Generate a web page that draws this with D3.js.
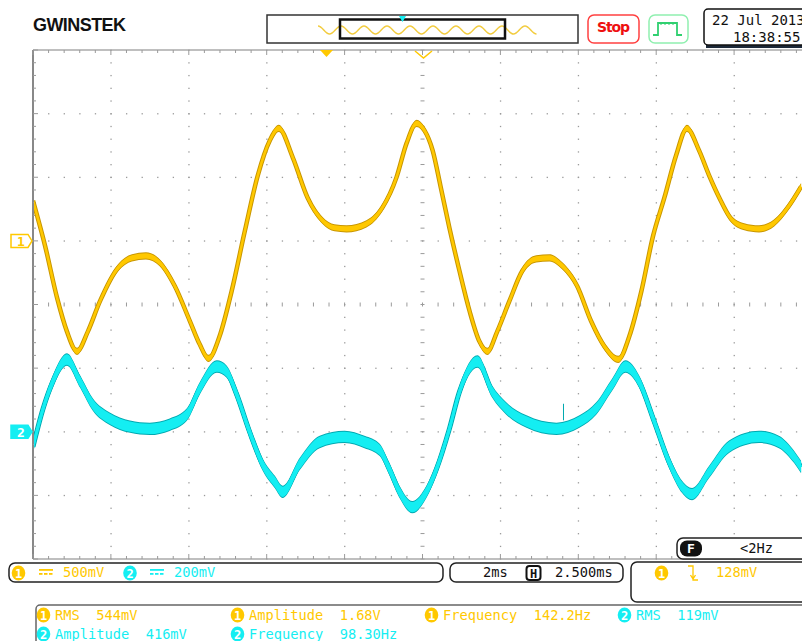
<!DOCTYPE html>
<html>
<head>
<meta charset="utf-8">
<script src="https://cdn.jsdelivr.net/npm/d3@7"></script>
<style>
  body { margin: 0; background: #fff; }
  svg { display: block; }
  text { font-family: "DejaVu Sans Mono", monospace; font-size: 13.7px; white-space: pre; }
</style>
</head>
<body>
<div id="scope"></div>
<script>
// channel 1, time in ms from left edge of screen, values in mV
const ch1Time = [0.00, 0.31, 0.62, 0.87, 1.13, 1.41, 1.72, 2.18, 2.54, 2.90, 3.26, 3.64, 4.03, 4.28, 4.51,
  4.79, 5.10, 5.44, 5.77, 6.08, 6.31, 6.67, 7.05, 7.44, 7.74, 8.05, 8.56, 8.97, 9.33, 9.59, 9.85,
  10.05, 10.26, 10.46, 10.69, 10.95, 11.21, 11.46, 11.67, 11.92, 12.23, 12.56, 12.92, 13.26, 13.59,
  13.97, 14.33, 14.67, 15.03, 15.31, 15.62, 15.92, 16.21, 16.51, 16.79, 17.10, 17.36, 17.62, 17.92,
  18.26, 18.64, 19.03, 19.41, 19.72];
const ch1Millivolts = [316, -39, -450, -711, -868, -711, -474, -213, -134, -118, -174, -355, -632, -813, -924,
  -750, -395, 79, 513, 789, 884, 655, 339, 158, 103, 95, 134, 261, 497, 766, 924,
  868, 711, 434, 103, -237, -553, -789, -868, -711, -474, -237, -142, -134, -197,
  -355, -632, -829, -932, -750, -395, 39, 339, 671, 884, 711, 513, 339, 174,
  111, 95, 142, 276, 426];

// channel 2
const ch2Time = [0.00, 0.26, 0.51, 0.87, 1.21, 1.54, 1.97, 2.49, 3.00, 3.51, 3.95, 4.28, 4.72, 4.97, 5.23,
  5.56, 5.90, 6.21, 6.41, 6.85, 7.36, 8.00, 8.51, 8.90, 9.15, 9.41, 9.74, 10.10, 10.36, 10.69,
  10.95, 11.41, 11.79, 12.15, 12.67, 13.44, 14.03, 14.46, 14.87, 15.21, 15.56, 15.95, 16.33, 16.67,
  16.92, 17.36, 17.87, 18.64, 19.15, 19.54, 19.72];
const ch2Millivolts = [-47, 73, 158, 227, 158, 85, 41, 16, 9, 22, 54, 136, 205, 189, 117,
  0, -104, -158, -189, -101, -32, -16, -32, -57, -117, -189, -237, -189, -117, 9,
  126, 221, 126, 73, 32, 9, 32, 73, 148, 205, 158, 32, -95, -174,
  -196, -126, -47, -16, -32, -79, -111];
// one glitch on channel 2: [time ms, from mV, to mV]
const ch2Glitch = [13.62, 36, 88];

const voltsPerDiv = ["500mV", "200mV"];
const timePerDiv = "2ms";
const horizPosition = "2.500ms";
const triggerLevel = "128mV";
const triggerFreq = "<2Hz";
const dateText = "22 Jul 2013";
const timeText = "18:38:55";

const measureChannel = [1, 1, 1, 2, 2, 2];
const measureLabel = ["RMS", "Amplitude", "Frequency", "RMS", "Amplitude", "Frequency"];
const measureValue = ["544mV", "1.68V", "142.2Hz", "119mV", "416mV", "98.30Hz"];

const W = 802, H = 641;
const YEL = "#ffc800", YEL_DARK = "#c89600", CYA = "#14eef2", CYA_DARK = "#00a8b0";
const GRID = "#9a9a9a";

const svg = d3.select("#scope").append("svg").attr("width", W).attr("height", H);

const plotLeft = 33, plotTop = 50, plotBottom = 559, divW = 77.9;
const x = d3.scaleLinear().domain([0, 20]).range([plotLeft, plotLeft + 10 * divW]);
const yDiv = d3.scaleLinear().domain([0, 8]).range([plotTop, plotBottom]);
const y1 = d3.scaleLinear().domain([-2500, 1500]).range([plotBottom, plotTop]);
const y2 = d3.scaleLinear().domain([-400, 1200]).range([plotBottom, plotTop]);

// ---- grid ----
const grid = svg.append("g");
const minorX = d3.range(0, 20.001, 0.4).filter(t => x(t) <= W);
const minorY = d3.range(0, 8.001, 0.2);

// dotted major lines
d3.range(1, 10).forEach(k => {
  if (k === 5) return;
  minorY.forEach(j => {
    grid.append("rect").attr("x", x(k * 2) - 0.5).attr("y", yDiv(j) - 0.5)
      .attr("width", 1.3).attr("height", 1.3).attr("fill", GRID);
  });
});
d3.range(1, 8).forEach(k => {
  if (k === 4) return;
  minorX.forEach(t => {
    grid.append("rect").attr("x", x(t) - 0.5).attr("y", yDiv(k) - 0.5)
      .attr("width", 1.3).attr("height", 1.3).attr("fill", GRID);
  });
});
// centre cross with small ticks
minorY.forEach(j => {
  grid.append("line").attr("x1", x(10) - 2).attr("x2", x(10) + 2)
    .attr("y1", yDiv(j)).attr("y2", yDiv(j)).attr("stroke", GRID).attr("stroke-width", 1);
});
minorX.forEach(t => {
  grid.append("line").attr("x1", x(t)).attr("x2", x(t))
    .attr("y1", yDiv(4) - 2).attr("y2", yDiv(4) + 2).attr("stroke", GRID).attr("stroke-width", 1);
});

// frame and edge ticks
grid.append("line").attr("x1", plotLeft).attr("x2", W).attr("y1", plotTop).attr("y2", plotTop)
  .attr("stroke", "#aaa").attr("stroke-width", 1.5);
grid.append("line").attr("x1", plotLeft).attr("x2", W).attr("y1", plotBottom).attr("y2", plotBottom)
  .attr("stroke", "#aaa").attr("stroke-width", 1.5);
grid.append("line").attr("x1", plotLeft).attr("x2", plotLeft).attr("y1", plotTop).attr("y2", plotBottom)
  .attr("stroke", "#888").attr("stroke-width", 2);
minorX.forEach((t, i) => {
  const len = i % 5 === 0 ? 5 : 3;
  grid.append("line").attr("x1", x(t)).attr("x2", x(t)).attr("y1", plotTop).attr("y2", plotTop + len)
    .attr("stroke", GRID);
  grid.append("line").attr("x1", x(t)).attr("x2", x(t)).attr("y1", plotBottom).attr("y2", plotBottom - len)
    .attr("stroke", GRID);
});
minorY.forEach((j, i) => {
  const len = i % 5 === 0 ? 5 : 3;
  grid.append("line").attr("x1", plotLeft).attr("x2", plotLeft + len).attr("y1", yDiv(j)).attr("y2", yDiv(j))
    .attr("stroke", GRID);
});

// ---- traces ----
svg.append("clipPath").attr("id", "plotClip").append("rect")
  .attr("x", plotLeft + 1).attr("y", plotTop).attr("width", W - plotLeft).attr("height", plotBottom - plotTop);
const traces = svg.append("g").attr("clip-path", "url(#plotClip)");

function drawTrace(times, mv, yScale, half, lw, dark, bright) {
  const pts = times.map((t, i) => [x(t), yScale(mv[i])]);
  const band = h => d3.area().x(d => d[0]).y0(d => d[1] + h).y1(d => d[1] - h).curve(d3.curveMonotoneX);
  const line = d3.line().x(d => d[0]).y(d => d[1]).curve(d3.curveMonotoneX);
  traces.append("path").attr("d", band(half + 1)(pts)).attr("fill", dark);
  traces.append("path").attr("d", line(pts)).attr("fill", "none").attr("stroke", dark).attr("stroke-width", lw + 2);
  traces.append("path").attr("d", band(half)(pts)).attr("fill", bright);
  traces.append("path").attr("d", line(pts)).attr("fill", "none").attr("stroke", bright).attr("stroke-width", lw);
}
drawTrace(ch2Time, ch2Millivolts, y2, 5.2, 3, CYA_DARK, CYA);
traces.append("line")
  .attr("x1", x(ch2Glitch[0])).attr("x2", x(ch2Glitch[0]))
  .attr("y1", y2(ch2Glitch[1])).attr("y2", y2(ch2Glitch[2]))
  .attr("stroke", CYA_DARK).attr("stroke-width", 1);
drawTrace(ch1Time, ch1Millivolts, y1, 2.6, 2.5, YEL_DARK, YEL);

// ---- channel ground markers ----
function marker(yPos, label, filled, color) {
  const p = `M11,${yPos - 6.5} H28 L32,${yPos} L28,${yPos + 6.5} H11 Z`;
  svg.append("path").attr("d", p).attr("fill", filled ? color : "#fff")
    .attr("stroke", color).attr("stroke-width", 1.5);
  svg.append("text").attr("x", 21).attr("y", yPos + 5).attr("text-anchor", "middle")
    .attr("fill", filled ? "#fff" : color).style("font-size", "13px").style("font-weight", "bold").text(label);
}
marker(y1(0), "1", false, YEL);
marker(y2(0), "2", true, CYA);

// ---- header ----
svg.append("text").attr("x", 33).attr("y", 31).attr("textLength", 93)
  .style("font-family", "Liberation Sans, Arial, sans-serif").style("font-size", "18px")
  .style("font-weight", "bold").attr("fill", "#111").text("GWINSTEK");

// overview
svg.append("rect").attr("x", 267).attr("y", 15).attr("width", 311).attr("height", 28)
  .attr("fill", "#fff").attr("stroke", "#333").attr("stroke-width", 1.5);
const wave = d3.path();
wave.moveTo(318, 26);
for (let xx = 318, up = true; xx < 527; xx += 11.5, up = !up) {
  const y0 = up ? 26 : 34, yN = up ? 34 : 26;
  wave.bezierCurveTo(xx + 4.5, y0, xx + 7, yN, xx + 11.5, yN);
}
svg.append("path").attr("d", wave.toString()).attr("fill", "none").attr("stroke", "#f2cc40").attr("stroke-width", 1.5);
svg.append("rect").attr("x", 340).attr("y", 19.5).attr("width", 165).attr("height", 19)
  .attr("fill", "none").attr("stroke", "#111").attr("stroke-width", 2.5);
svg.append("path").attr("d", "M399,16 H406 L402.5,22 Z").attr("fill", CYA);

// trigger position markers under the overview
svg.append("path").attr("d", "M320,50 H333 L326.5,57 Z").attr("fill", YEL);
svg.append("path").attr("d", "M415,51 L423.5,58 L432,51").attr("fill", "none").attr("stroke", YEL).attr("stroke-width", 1.5);

// Stop button
svg.append("rect").attr("x", 588).attr("y", 15).attr("width", 51).attr("height", 28).attr("rx", 6)
  .attr("fill", "#fff").attr("stroke", "#ff4040").attr("stroke-width", 1.5);
svg.append("text").attr("x", 597).attr("y", 32).attr("textLength", 33)
  .style("font-family", "DejaVu Sans, sans-serif").style("font-size", "14px").style("font-weight", "bold")
  .attr("fill", "#ee1010").text("Stop");

// trigger mode button
svg.append("rect").attr("x", 649).attr("y", 15).attr("width", 39).attr("height", 28).attr("rx", 6)
  .attr("fill", "#fff").attr("stroke", "#90f0b0").attr("stroke-width", 1.5);
svg.append("path").attr("d", "M653,35 H658 V23 H677 V35 H682").attr("fill", "none")
  .attr("stroke", "#30d070").attr("stroke-width", 1.8);
svg.append("path").attr("d", "M661,23 V25 M665,23 V25 M669,23 V25 M673,23 V25").attr("stroke", "#30d070").attr("stroke-width", 1);

// date box (runs off the right edge of the screen, as in the capture)
svg.append("path").attr("d", "M706,12 H812 V48 H706 Z").attr("fill", "#1c2838");
svg.append("rect").attr("x", 704).attr("y", 9).attr("width", 110).attr("height", 36).attr("rx", 4)
  .attr("fill", "#fff").attr("stroke", "#111").attr("stroke-width", 1.5);
svg.append("text").attr("x", 712).attr("y", 25).style("font-size", "14px").attr("fill", "#111").text(dateText);
svg.append("text").attr("x", 733).attr("y", 42).style("font-size", "14px").attr("fill", "#111").text(timeText);

// ---- bottom status bars ----
function chBadge(cx, cy, n) {
  const color = n === 1 ? YEL : CYA;
  svg.append("ellipse").attr("cx", cx).attr("cy", cy).attr("rx", 6.8).attr("ry", 7.5).attr("fill", color);
  svg.append("text").attr("x", cx).attr("y", cy + 4.5).attr("text-anchor", "middle")
    .style("font-size", "12px").style("font-weight", "bold").attr("fill", "#fff").text(n);
}
function dcIcon(x0, yc, color) {
  svg.append("rect").attr("x", x0).attr("y", yc - 3).attr("width", 14).attr("height", 1.8).attr("fill", color);
  [0, 5, 10].forEach(d => svg.append("rect").attr("x", x0 + d).attr("y", yc + 1)
    .attr("width", 3.5).attr("height", 1.8).attr("fill", color));
}
function bar(x0, y0, w, h) {
  svg.append("rect").attr("x", x0).attr("y", y0).attr("width", w).attr("height", h).attr("rx", 6)
    .attr("fill", "#fff").attr("stroke", "#222").attr("stroke-width", 1.5);
}

// F box (trigger frequency)
svg.append("rect").attr("x", 677).attr("y", 538).attr("width", 140).attr("height", 21).attr("rx", 6)
  .attr("fill", "#fff").attr("stroke", "#222").attr("stroke-width", 1.5);
svg.append("rect").attr("x", 680).attr("y", 540.5).attr("width", 22).attr("height", 16).attr("rx", 7).attr("fill", "#111");
svg.append("text").attr("x", 691).attr("y", 553).attr("text-anchor", "middle").style("font-size", "13px")
  .style("font-weight", "bold").attr("fill", "#fff").text("F");
svg.append("text").attr("x", 740).attr("y", 553).attr("fill", "#111").text(triggerFreq);

bar(9, 563, 434, 19);
chBadge(18.5, 573, 1);
dcIcon(39, 572, YEL);
svg.append("text").attr("x", 63).attr("y", 577).attr("fill", YEL).text(voltsPerDiv[0]);
chBadge(130, 573, 2);
dcIcon(150, 572, CYA);
svg.append("text").attr("x", 174).attr("y", 577).attr("fill", CYA).text(voltsPerDiv[1]);

bar(450, 563, 173, 19);
svg.append("text").attr("x", 483).attr("y", 577).attr("fill", "#111").text(timePerDiv);
svg.append("rect").attr("x", 526.5).attr("y", 566).attr("width", 14).attr("height", 14).attr("rx", 3)
  .attr("fill", "#fff").attr("stroke", "#111").attr("stroke-width", 2);
svg.append("text").attr("x", 533.5).attr("y", 577.5).attr("text-anchor", "middle").style("font-size", "12px")
  .style("font-weight", "bold").attr("fill", "#111").text("H");
svg.append("text").attr("x", 555).attr("y", 577).attr("fill", "#111").text(horizPosition);

bar(631, 562, 190, 40);
chBadge(661.5, 573, 1);
svg.append("path").attr("d", "M688,566 H693 V580 H698 M690.5,575 L693,579 L695.5,575")
  .attr("fill", "none").attr("stroke", YEL).attr("stroke-width", 1.3);
svg.append("text").attr("x", 716).attr("y", 577).attr("fill", YEL).text(triggerLevel);

// ---- measurements ----
svg.append("rect").attr("x", 36).attr("y", 605).attr("width", 790).attr("height", 50).attr("rx", 4)
  .attr("fill", "#fff").attr("stroke", "#666").attr("stroke-width", 1.5);
const colX = [37, 231, 425, 618];
measureLabel.forEach((lab, i) => {
  const row = i < 4 ? 0 : 1;
  const col = i < 4 ? i : i - 4;
  const bx = colX[col], by = row === 0 ? 615 : 634;
  const color = measureChannel[i] === 1 ? YEL : CYA;
  chBadge(bx + 6.5, by, measureChannel[i]);
  svg.append("text").attr("x", bx + 18).attr("y", by + 5).attr("fill", color)
    .text(lab + "  " + measureValue[i]);
});
</script>
</body>
</html>
